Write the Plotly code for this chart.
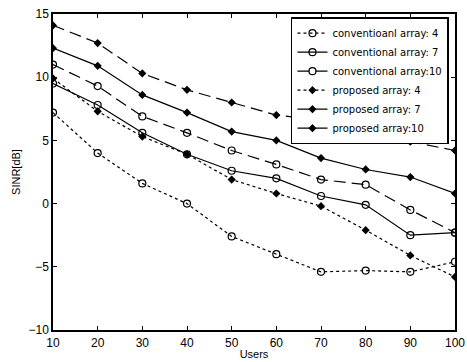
import plotly.graph_objects as go

users = [10, 20, 30, 40, 50, 60, 70, 80, 90, 100]
conv4 = [7.2, 4.0, 1.6, 0.0, -2.6, -4.0, -5.4, -5.3, -5.4, -4.6]
conv7 = [9.5, 7.8, 5.6, 3.9, 2.6, 2.0, 0.6, -0.1, -2.5, -2.3]
conv10 = [11.0, 9.3, 6.9, 5.6, 4.2, 3.1, 1.9, 1.5, -0.5, -2.3]
prop4 = [9.9, 7.3, 5.3, 3.9, 1.9, 0.8, -0.2, -2.1, -4.1, -5.8]
prop7 = [12.3, 10.9, 8.6, 7.2, 5.7, 5.0, 3.6, 2.7, 2.1, 0.8]
prop10 = [14.1, 12.7, 10.3, 9.0, 8.0, 7.0, 6.6, 5.7, 4.9, 4.2]

names = ["conventioanl array: 4", "conventional array: 7", "conventional array:10",
         "proposed array: 4", "proposed array: 7", "proposed array:10"]
series = [conv4, conv7, conv10, prop4, prop7, prop10]
dashes = ["3px,3px", "solid", "12px,6px", "3px,3px", "solid", "12px,6px"]
symbols = ["circle-open", "circle-open", "circle-open", "diamond", "diamond", "diamond"]

fig = go.Figure()
for n, s, d, sym in zip(names, series, dashes, symbols):
    fig.add_trace(go.Scatter(
        x=users, y=s, name=n, mode="lines+markers",
        line=dict(color="black", width=1.2, dash=d),
        marker=dict(symbol=sym, size=7 if "open" in sym else 5, color="black",
                    line=dict(color="black", width=1.2)),
    ))

axis_common = dict(showline=True, linecolor="black", linewidth=1.5, mirror="ticks",
                   ticks="inside", ticklen=4, tickcolor="black", showgrid=False,
                   zeroline=False, automargin=False,
                   tickfont=dict(size=12, color="black"))
fig.update_xaxes(range=[10, 100], tickvals=list(range(10, 101, 10)),
                 ticklabelstandoff=1,
                 title=dict(text="Users", font=dict(size=11, color="black"), standoff=1),
                 **axis_common)
fig.update_yaxes(range=[-10, 15], tickvals=[-10, -5, 0, 5, 10, 15],
                 title=dict(text="SINR[dB]", font=dict(size=11, color="black"), standoff=6),
                 **axis_common)

fig.update_layout(
    width=467, height=362,
    margin=dict(l=53, r=12, t=14, b=32),
    paper_bgcolor="white", plot_bgcolor="white",
    font=dict(family="Liberation Sans, Arial, sans-serif", color="black"),
    legend=dict(x=0.985, y=0.99, xanchor="right", yanchor="top",
                bgcolor="white", bordercolor="black", borderwidth=1.5,
                font=dict(size=10, color="black", family="DejaVu Sans"), itemwidth=30,
                tracegroupgap=0),
)
fig.write_html("out.html")
